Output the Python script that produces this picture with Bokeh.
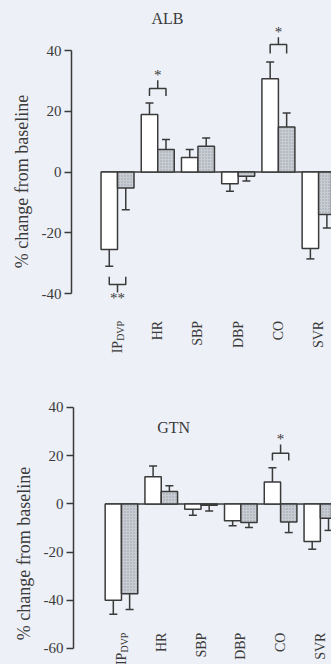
import numpy as np
from bokeh.plotting import figure
from bokeh.layouts import column, row
from bokeh.models import Range1d, FixedTicker, PrintfTickFormatter
from bokeh.core.properties import value
from bokeh.embed import file_html
from bokeh.resources import INLINE

# ---- data ----
categories = ["IP", "HR", "SBP", "DBP", "CO", "SVR"]   # first one is IP with subscript DVP
first_sub = "DVP"
y_title = "% change from baseline"

alb_open = [-25.5, 18.9, 4.8, -3.9, 30.7, -25.2]
alb_open_err = [-31.0, 22.7, 7.4, -6.3, 36.2, -28.6]
alb_shaded = [-5.3, 7.4, 8.5, -1.4, 14.8, -14.0]
alb_shaded_err = [-12.4, 10.7, 11.2, -3.0, 19.4, -18.4]

gtn_open = [-40.0, 11.3, -2.2, -7.0, 9.1, -15.6]
gtn_open_err = [-45.8, 15.7, -4.7, -9.1, 15.0, -18.8]
gtn_shaded = [-37.3, 5.1, -0.6, -7.7, -7.5, -6.0]
gtn_shaded_err = [-43.8, 7.5, -2.9, -9.8, -11.9, -11.0]

alb_ticks = [-40, -20, 0, 20, 40]
gtn_ticks = [-60, -40, -20, 0, 20, 40]

# significance: (category index, mark, leg end, bracket level, star level)
alb_sig = [(0, "**", -34.5, -37.0, -41.5), (1, "*", 25.0, 27.5, 32.0), (4, "*", 39.0, 42.0, 46.0)]
gtn_sig = [(4, "*", 18.0, 21.0, 27.0)]

BG = "#edf0f6"
INK = "#3a3a3a"
FONT = "Liberation Serif"
W = 0.41
LABW = 36


def label_fig(height, cx, cy):
    f = figure(width=LABW, height=height, x_range=Range1d(0, LABW), y_range=Range1d(0, height),
               output_backend="svg", toolbar_location=None, x_axis_location=None,
               y_axis_location=None, min_border=0, background_fill_color=BG,
               border_fill_color=BG, outline_line_color=None)
    f.grid.visible = False
    f.text(x=[cx], y=[cy], text=[y_title], angle=np.pi / 2, text_align="center",
           text_baseline="middle", text_font=value(FONT), text_font_size="18px", text_color=INK)
    return f


def panel(title, opn, opn_err, shd, shd_err, ticks, sigs, height, left, xr, yr,
          label_y, title_x, title_y):
    p = figure(width=331 - LABW, height=height, x_range=Range1d(*xr), y_range=Range1d(*yr),
               output_backend="svg", toolbar_location=None, x_axis_location=None,
               min_border_left=left - LABW, min_border_right=0, min_border_top=0,
               min_border_bottom=0, background_fill_color=BG, border_fill_color=BG,
               outline_line_color=None)
    p.grid.visible = False
    ax = p.yaxis[0]
    ax.bounds = (ticks[0], ticks[-1])
    ax.ticker = FixedTicker(ticks=ticks)
    ax.formatter = PrintfTickFormatter(format="%d")
    ax.major_tick_out = 7
    ax.major_tick_in = 0
    ax.minor_tick_line_color = None
    ax.axis_line_width = 1.5
    ax.axis_line_color = INK
    ax.major_tick_line_width = 1.5
    ax.major_tick_line_color = INK
    ax.major_label_text_font = FONT
    ax.major_label_text_font_size = "15px"
    ax.major_label_text_color = INK
    ax.major_label_standoff = 3

    n = len(categories)
    xs = np.arange(n)
    xo = xs - W / 2
    xsd = xs + W / 2

    p.segment(x0=[xs[0] - W], y0=[0], x1=[xs[-1] + 2], y1=[0], line_color=INK, line_width=1.5)
    p.vbar(x=xo, top=opn, bottom=0, width=W, fill_color="white", line_color=INK, line_width=1.5)
    p.vbar(x=xsd, top=shd, bottom=0, width=W, fill_color="#c8ccd3", hatch_pattern="dot",
           hatch_color="#7d8088", hatch_alpha=0.6, hatch_scale=3, line_color=INK, line_width=1.5)
    for xx, v, e in ((xo, opn, opn_err), (xsd, shd, shd_err)):
        p.segment(x0=xx, y0=v, x1=xx, y1=e, line_color=INK, line_width=1.5)
        p.scatter(x=xx, y=e, marker="dash", size=8, line_color=INK, line_width=1.5)

    for (i, mark, leg, lvl, star) in sigs:
        a, b = i - W / 2, i + W / 2
        mid = i
        toward = lvl + (star - lvl) * 0.6
        p.multi_line(xs=[[a, a, b, b], [mid, mid]], ys=[[leg, lvl, lvl, leg], [lvl, toward]],
                     line_color=INK, line_width=1.5)
        p.text(x=[mid], y=[star], text=[mark], text_font=value(FONT), text_font_size="15px",
               text_align="center", text_baseline="middle", text_color=INK)

    # category labels (rotated)
    p.text(x=xs[1:], y=[label_y] * (n - 1), text=categories[1:], angle=np.pi / 2,
           text_align="right", text_baseline="middle", text_font=value(FONT),
           text_font_size="14px", text_color=INK)
    p.text(x=[xs[0]], y=[label_y], text=[first_sub], angle=np.pi / 2, x_offset=3,
           text_align="right", text_baseline="middle", text_font=value(FONT),
           text_font_size="10px", text_color=INK)
    p.text(x=[xs[0]], y=[label_y], text=[categories[0]], angle=np.pi / 2, y_offset=20,
           text_align="right", text_baseline="middle", text_font=value(FONT),
           text_font_size="14px", text_color=INK)

    p.text(x=[title_x], y=[title_y], text=[title], text_align="center", text_baseline="middle",
           text_font=value(FONT), text_font_size="16px", text_color=INK)
    return p


p1 = panel("ALB", alb_open, alb_open_err, alb_shaded, alb_shaded_err, alb_ticks, alb_sig,
           372, 71, (-1.144, 5.32), (-66.0, 56.46), -49.0, 1.24, 50.6)
p2 = panel("GTN", gtn_open, gtn_open_err, gtn_shaded, gtn_shaded_err, gtn_ticks, gtn_sig,
           292, 73, (-1.206, 5.28), (-66.64, 54.52), -53.4, 1.31, 31.7)

lay = column(row(label_fig(372, 21, 191), p1, spacing=0),
             row(label_fig(292, 23, 111), p2, spacing=0),
             spacing=0, background=BG)
open("out.html", "w").write(file_html(lay, INLINE))
